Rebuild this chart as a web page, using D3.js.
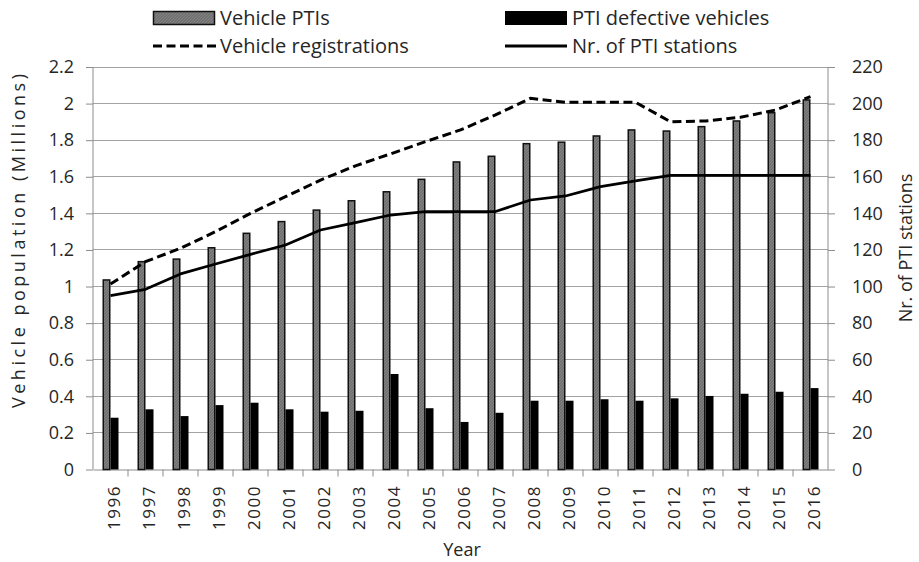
<!DOCTYPE html>
<html>
<head>
<meta charset="utf-8">
<script src="https://cdn.jsdelivr.net/npm/d3@7"></script>
<style>
  html, body { margin: 0; padding: 0; background: #fff; }
  svg { display: block; }
  text { font-family: "Open Sans", sans-serif; fill: #262626; }
</style>
</head>
<body>
<svg id="chart" width="919" height="562"></svg>
<script>
// ---- Data ----
const years = ["1996","1997","1998","1999","2000","2001","2002","2003","2004","2005","2006","2007","2008","2009","2010","2011","2012","2013","2014","2015","2016"];
const vehiclePTIs = [1.036,1.136,1.15,1.212,1.291,1.355,1.418,1.469,1.518,1.586,1.681,1.712,1.781,1.789,1.823,1.856,1.85,1.874,1.905,1.95,2.02];
const defectiveVehicles = [0.283,0.329,0.292,0.352,0.365,0.329,0.316,0.321,0.522,0.335,0.26,0.31,0.376,0.376,0.384,0.376,0.389,0.402,0.414,0.425,0.445];
const vehicleRegistrations = [1.014,1.136,1.209,1.30,1.40,1.491,1.582,1.66,1.725,1.792,1.856,1.938,2.029,2.007,2.007,2.007,1.901,1.905,1.925,1.965,2.038];
const ptiStations = [95,98.5,106.9,112.3,117.6,122.7,130.9,134.9,139.1,140.9,141,141,147.3,149.5,154.6,157.7,160.8,160.8,160.8,160.8,160.8];
const leftTicks = [0,0.2,0.4,0.6,0.8,1,1.2,1.4,1.6,1.8,2,2.2];
const leftTickLabels = ["0","0.2","0.4","0.6","0.8","1","1.2","1.4","1.6","1.8","2","2.2"];
const rightTicks = [0,20,40,60,80,100,120,140,160,180,200,220];
const legendLabels = ["Vehicle PTIs","PTI defective vehicles","Vehicle registrations","Nr. of PTI stations"];

// ---- Layout ----
const svg = d3.select("#chart");
const L = 93, R = 828, T = 67, B = 469.5;

const x = d3.scaleBand().domain(years).range([L, R]).padding(0);
const yL = d3.scaleLinear().domain([0, 2.2]).range([B, T]);
const yR = d3.scaleLinear().domain([0, 220]).range([B, T]);
const barW = 8;
const sub = d3.scaleBand().domain(["pti","def"]).range([-barW, barW]).padding(0);

const gridColor = "#a3a3a3", axisColor = "#8c8c8c";

// Gridlines
svg.append("g").selectAll("line").data(leftTicks.slice(1)).join("line")
  .attr("x1", L).attr("x2", R)
  .attr("y1", d => yL(d)).attr("y2", d => yL(d))
  .attr("stroke", gridColor).attr("stroke-width", 1).attr("shape-rendering","crispEdges");

// Left axis
const gLeft = svg.append("g").attr("transform", `translate(${L},0)`)
  .call(d3.axisLeft(yL).tickValues(leftTicks).tickSize(7).tickPadding(12)
    .tickFormat((d,i) => leftTickLabels[i]));
// Right axis
const gRight = svg.append("g").attr("transform", `translate(${R},0)`)
  .call(d3.axisRight(yR).tickValues(rightTicks).tickSize(7).tickPadding(17));
[gLeft, gRight].forEach(g => {
  g.select(".domain").remove();
  g.selectAll(".tick line").attr("stroke", axisColor);
  g.selectAll(".tick text").style("font-family", "Open Sans").style("font-size", "18px").attr("fill", "#262626");
});
svg.append("line").attr("x1", L).attr("x2", L).attr("y1", T).attr("y2", B).attr("stroke", axisColor);
svg.append("line").attr("x1", R).attr("x2", R).attr("y1", T).attr("y2", B).attr("stroke", axisColor);

// Bottom axis
const gBottom = svg.append("g").attr("transform", `translate(0,${B})`)
  .call(d3.axisBottom(x).tickSize(0).tickFormat(""));
gBottom.select(".domain").attr("stroke", axisColor);
svg.append("g").selectAll("line").data(years.slice(1)).join("line")
  .attr("x1", d => x(d)).attr("x2", d => x(d))
  .attr("y1", B).attr("y2", B + 7)
  .attr("stroke", axisColor);

// Year labels
svg.append("g").selectAll("text").data(years).join("text")
  .attr("transform", d => `translate(${x(d) + x.bandwidth()/2},485) rotate(-90)`)
  .attr("text-anchor", "end")
  .attr("dy", "9.5")
  .style("font-size", "17px")
  .style("letter-spacing", "1.5px")
  .text(d => d);

// Pattern for gray bars
const defs = svg.append("defs");
const pat = defs.append("pattern").attr("id","hatch").attr("patternUnits","userSpaceOnUse")
  .attr("width", 3).attr("height", 3);
pat.append("rect").attr("width",3).attr("height",3).attr("fill","#717171");
pat.append("path").attr("d","M0,3 L3,0").attr("stroke","#838383").attr("stroke-width",1);

// Bars
const cx = d => x(d) + x.bandwidth()/2;
svg.append("g").selectAll("rect").data(years).join("rect")
  .attr("x", (d) => cx(d) + sub("pti") + 0.75)
  .attr("width", sub.bandwidth() - 1.5)
  .attr("y", (d,i) => yL(vehiclePTIs[i]))
  .attr("height", (d,i) => B - yL(vehiclePTIs[i]))
  .attr("fill", "url(#hatch)").attr("stroke", "#111").attr("stroke-width", 1.5);
svg.append("g").selectAll("rect").data(years).join("rect")
  .attr("x", (d) => cx(d) + sub("def"))
  .attr("width", sub.bandwidth())
  .attr("y", (d,i) => yL(defectiveVehicles[i]))
  .attr("height", (d,i) => B - yL(defectiveVehicles[i]))
  .attr("fill", "#000");

// Lines
const lineL = d3.line().x((d,i) => cx(years[i])).y(d => yL(d));
const lineR = d3.line().x((d,i) => cx(years[i])).y(d => yR(d));
svg.append("path").datum(vehicleRegistrations).attr("d", lineL)
  .attr("fill","none").attr("stroke","#000").attr("stroke-width",3)
  .attr("stroke-dasharray","9,4.5");
svg.append("path").datum(ptiStations).attr("d", lineR)
  .attr("fill","none").attr("stroke","#000").attr("stroke-width",2.75)
  .attr("stroke-linejoin","round");

// Axis titles
svg.append("text")
  .attr("transform", "translate(25,241) rotate(-90)")
  .attr("text-anchor","middle")
  .attr("textLength", 334).attr("lengthAdjust","spacing")
  .style("font-size","18px")
  .text("Vehicle population (Millions)");
svg.append("text")
  .attr("transform", "translate(912,248) rotate(-90)")
  .attr("text-anchor","middle")
  .style("font-size","18px")
  .text("Nr. of PTI stations");
svg.append("text")
  .attr("x", 462).attr("y", 556)
  .attr("text-anchor","middle")
  .style("font-size","18px")
  .text("Year");

// Legend
const lg = svg.append("g");
const legendPos = [[153,18],[505,18],[153,46],[505,46]];
lg.append("rect").attr("x",153.5).attr("y",11.5).attr("width",61).attr("height",13)
  .attr("fill","url(#hatch)").attr("stroke","#111").attr("stroke-width",1.5);
lg.append("rect").attr("x",505).attr("y",11).attr("width",62).attr("height",14).attr("fill","#000");
lg.append("line").attr("x1",153).attr("x2",216).attr("y1",46).attr("y2",46)
  .attr("stroke","#000").attr("stroke-width",3).attr("stroke-dasharray","9,4.5");
lg.append("line").attr("x1",505).attr("x2",567).attr("y1",46).attr("y2",46)
  .attr("stroke","#000").attr("stroke-width",3);
lg.selectAll("text").data(legendLabels).join("text")
  .attr("x", (d,i) => legendPos[i][0] + 67)
  .attr("y", (d,i) => legendPos[i][1])
  .attr("dy","0.36em")
  .style("font-size","20px")
  .text(d => d);
</script>
</body>
</html>
